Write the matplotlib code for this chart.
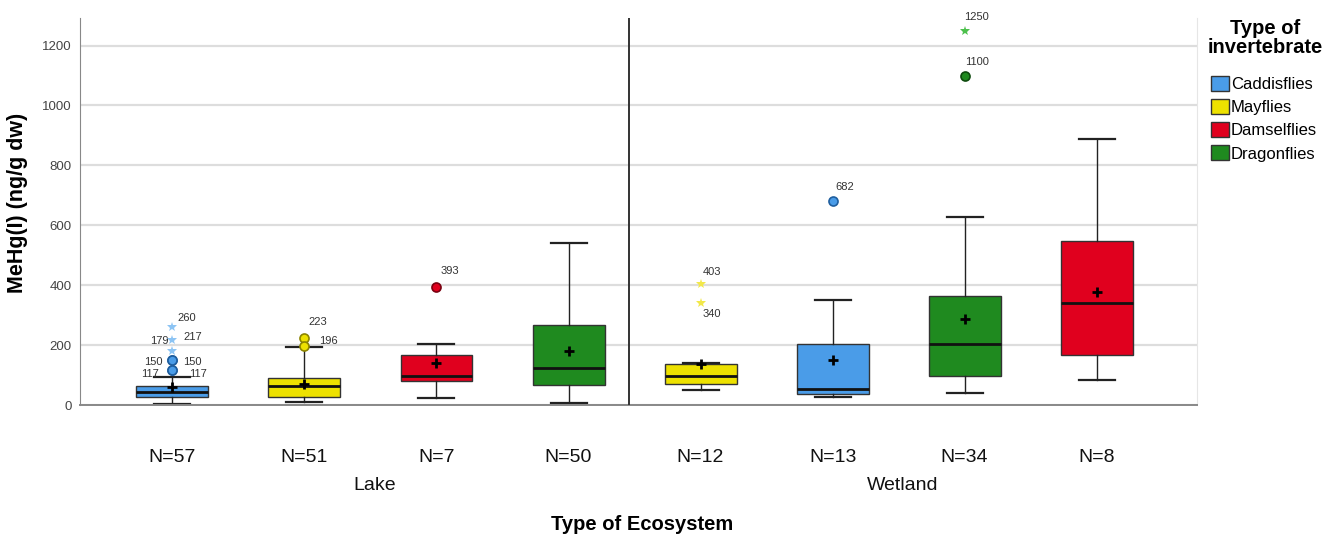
import matplotlib.pyplot as plt
import numpy as np
from matplotlib.patches import Patch

plt.rcParams["font.family"] = ["Liberation Sans", "DejaVu Sans"]

# Data (ng/g dw)
ecosystems = ["Lake", "Wetland"]
box_ecosystem = [0, 0, 0, 0, 1, 1, 1, 1]
box_type = ["Caddisflies", "Mayflies", "Damselflies", "Dragonflies",
            "Mayflies", "Caddisflies", "Dragonflies", "Damselflies"]
n_obs = [57, 51, 7, 50, 12, 13, 34, 8]
q1 = [28, 27, 79, 68, 70, 36, 97, 167]
median = [45, 62, 96, 125, 97, 52, 203, 341]
q3 = [64, 91, 167, 267, 137, 203, 365, 548]
whisker_low = [4, 10, 23, 8, 50, 28, 39, 85]
whisker_high = [94, 193, 203, 542, 139, 351, 629, 888]
means = [59, 71, 141, 179, 137, 150, 288, 378]

# Outliers: box index, value, kind ("o" = outlier, "*" = extreme)
out_box = [0, 0, 0, 0, 0, 0, 0, 1, 1, 2, 4, 4, 5, 6, 6]
out_val = [117, 117, 150, 150, 179, 217, 260, 223, 196, 393, 403, 340, 682, 1100, 1250]
out_kind = ["o", "o", "o", "o", "*", "*", "*", "o", "o", "o", "*", "*", "o", "o", "*"]
out_label = ["117", "117", "150", "150", "179", "217", "260", "223", "196", "393",
             "403", "340", "682", "1100", "1250"]

type_order = ["Caddisflies", "Mayflies", "Damselflies", "Dragonflies"]
face = {"Caddisflies": "#4A9CE8", "Mayflies": "#EDE100",
        "Damselflies": "#E0001E", "Dragonflies": "#1F8A1F"}
edge = {"Caddisflies": "#1F5E9E", "Mayflies": "#8C8400",
        "Damselflies": "#7A0010", "Dragonflies": "#0E4A0E"}
star = {"Caddisflies": "#8CC4F4", "Mayflies": "#F2E84A",
        "Damselflies": "#F06070", "Dragonflies": "#4CC04C"}

# label offsets in pixels (dx, dy, ha) for each outlier label
label_off = [(-14, -4, "right"), (17, -4, "left"), (-10, -2, "right"), (11, -2, "left"),
             (-4, 10, "right"), (11, 3, "left"), (5, 9, "left"),
             (4, 16, "left"), (15, 5, "left"), (4, 16, "left"),
             (2, 12, "left"), (2, -11, "left"), (3, 14, "left"),
             (0, 14, "left"), (-1, 14, "left")]

positions = np.arange(len(n_obs))
box_w = 0.545

fig = plt.figure(figsize=(13.38, 5.37), dpi=100)
ax = fig.add_axes([80 / 1338, 1 - 405 / 537, (1197 - 80) / 1338, (405 - 18) / 537])

stats = []
for i in range(len(n_obs)):
    stats.append(dict(med=median[i], q1=q1[i], q3=q3[i], whislo=whisker_low[i],
                      whishi=whisker_high[i], mean=means[i], fliers=[]))

bp = ax.bxp(stats, positions=positions, widths=box_w, capwidths=box_w * 0.5,
            patch_artist=True, showmeans=True, showfliers=False,
            boxprops=dict(linewidth=1.0, edgecolor="#333333"),
            medianprops=dict(color="#111111", linewidth=2.0),
            whiskerprops=dict(color="#222222", linewidth=1.0),
            capprops=dict(color="#222222", linewidth=1.6),
            meanprops=dict(marker="+", markeredgecolor="black", markersize=7.5,
                           markeredgewidth=2.0))
for patch, t in zip(bp["boxes"], box_type):
    patch.set_facecolor(face[t])
for line in bp["means"]:
    line.set_zorder(5)

for b, v, k, lab, (dx, dy, ha) in zip(out_box, out_val, out_kind, out_label, label_off):
    t = box_type[b]
    if k == "o":
        ax.plot(positions[b], v, marker="o", markersize=6.5, markerfacecolor=face[t],
                markeredgecolor=edge[t], markeredgewidth=1.2, zorder=4)
    else:
        ax.plot(positions[b], v, marker="*", markersize=7, color=star[t],
                markeredgewidth=0, zorder=4)
    ax.annotate(lab, (positions[b], v), xytext=(dx * 0.72, dy * 0.72),
                textcoords="offset points", ha=ha, va="center",
                fontsize=8, color="#333333")

ax.set_ylim(0, 1292)
ax.set_xlim(-0.70, 7.76)
ax.set_yticks(np.arange(0, 1201, 200))
ax.tick_params(axis="y", length=0, labelsize=9.5, labelcolor="#444444", pad=6)
ax.set_xticks(positions)
ax.set_xticklabels([f"N={n}" for n in n_obs], fontsize=14, color="#111111")
ax.tick_params(axis="x", length=0, pad=31.5)
ax.yaxis.grid(True, color="#DDDDDD", linewidth=1.6)
ax.set_axisbelow(True)
ax.spines["top"].set_visible(False)
ax.spines["right"].set_color("#E6E6E6")
ax.spines["left"].set_color("#888888")
ax.spines["bottom"].set_color("#888888")
ax.spines["bottom"].set_linewidth(1.4)

# divider between ecosystems
ax.axvline(3.46, color="#333333", linewidth=1.4, zorder=3)

# ecosystem labels under their group of boxes
trans = ax.get_xaxis_transform()
box_ecosystem = np.array(box_ecosystem)
for e, name in enumerate(ecosystems):
    cx = positions[box_ecosystem == e].mean()
    ax.text(cx + 0.03, -0.209, name, transform=trans, ha="center", va="center",
            fontsize=14, color="#111111")

fig.text(642 / 1338, 1 - 524 / 537, "Type of Ecosystem", ha="center", va="center",
         fontsize=14.5, fontweight="bold")
fig.text(18 / 1338, 1 - 203 / 537, "MeHg(I) (ng/g dw)", ha="center", va="center",
         rotation=90, fontsize=15.5, fontweight="bold")

# legend: title as separate text so the gap above the entries matches
fig.text(1265 / 1338, 1 - 38 / 537, "Type of\ninvertebrate", ha="center", va="center",
         fontsize=14.5, fontweight="bold", linespacing=0.95)
handles = [Patch(facecolor=face[t], edgecolor="#333333", linewidth=1.0) for t in type_order]
leg = fig.legend(handles, type_order, loc="upper left", bbox_to_anchor=(1211 / 1338, 1 - 76 / 537),
                 frameon=False, fontsize=12,
                 handlelength=1.05, handleheight=1.0, handletextpad=0.15,
                 labelspacing=0.42, borderaxespad=0, borderpad=0)

fig.savefig("out.png", dpi=100)
